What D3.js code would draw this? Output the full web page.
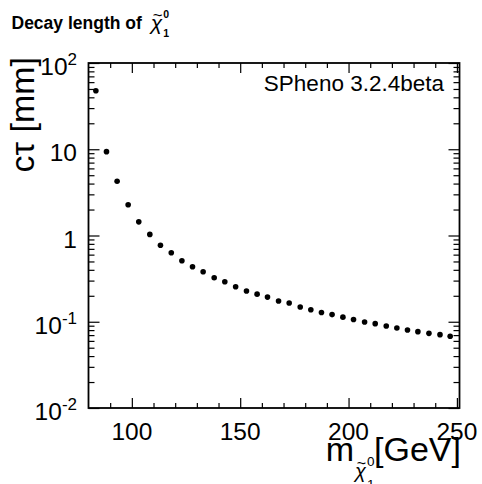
<!DOCTYPE html>
<html lang="en">
<head>
<meta charset="utf-8">
<title>Decay length of the lightest neutralino</title>
<script src="https://cdn.jsdelivr.net/npm/d3@7"></script>
<style>
	body { margin: 0; background: white; }
	text { font-family: "Liberation Sans", Arial, Helvetica, sans-serif; fill: black; }
</style>
</head>
<body>
<script>
// neutralino mass [GeV] and decay length c*tau [mm]
var mass = [83.4, 88.3, 93.2, 98.3, 103.2, 108.3, 113.2, 118.2, 123.1, 128.0,
            132.9, 138.0, 142.9, 147.9, 152.9, 157.8, 162.6, 167.7, 172.6, 177.7,
            182.6, 187.5, 192.4, 197.4, 202.3, 207.4, 212.3, 217.4, 222.3, 227.2,
            232.0, 237.1, 242.2, 246.9];
var ctau = [47.7, 9.38, 4.25, 2.27, 1.44, 1.03, 0.772, 0.630, 0.510, 0.434,
            0.380, 0.324, 0.291, 0.255, 0.227, 0.209, 0.193, 0.174, 0.165, 0.148,
            0.138, 0.128, 0.121, 0.113, 0.106, 0.0993, 0.0951, 0.0892, 0.0845, 0.0801,
            0.0768, 0.0734, 0.0709, 0.0678];
var xDomain = [80, 251.2];
var yDomain = [0.01, 100];
var xTicks = [100, 150, 200, 250];
var yTicks = [0.01, 0.1, 1, 10, 100];
var yTickLabels = ["10^-2", "10^-1", "1", "10", "10^2"];
var annotation = "SPheno 3.2.4beta";

var width = 482, height = 484;
var frameL = 88.5, frameR = 459.5, frameT = 63, frameB = 408;

var svg = d3.select("body")
	.append("svg")
	.attr("width", width)
	.attr("height", height);

var x = d3.scaleLinear().domain(xDomain).range([frameL, frameR]);
var y = d3.scaleLog().domain(yDomain).range([frameB, frameT]);

// minor ticks
var xMinor = d3.range(90, 251, 10).filter(function(v) { return xTicks.indexOf(v) < 0; });
var yMinor = [];
[0.01, 0.1, 1, 10].forEach(function(d) {
	for (var k = 2; k <= 9; k++) yMinor.push(d * k);
});

function noDomain(g) { g.select(".domain").remove(); }

// bottom / top axes (ticks pointing inside)
svg.append("g")
	.attr("transform", "translate(0," + frameB + ")")
	.call(d3.axisBottom(x).tickValues(xTicks).tickSize(-10).tickFormat(""))
	.call(noDomain);
svg.append("g")
	.attr("transform", "translate(0," + frameB + ")")
	.call(d3.axisBottom(x).tickValues(xMinor).tickSize(-5).tickFormat(""))
	.call(noDomain);
svg.append("g")
	.attr("transform", "translate(0," + frameT + ")")
	.call(d3.axisTop(x).tickValues(xTicks).tickSize(-10).tickFormat(""))
	.call(noDomain);
svg.append("g")
	.attr("transform", "translate(0," + frameT + ")")
	.call(d3.axisTop(x).tickValues(xMinor).tickSize(-5).tickFormat(""))
	.call(noDomain);

// left / right axes
svg.append("g")
	.attr("transform", "translate(" + frameL + ",0)")
	.call(d3.axisLeft(y).tickValues(yTicks).tickSize(-11).tickFormat(""))
	.call(noDomain);
svg.append("g")
	.attr("transform", "translate(" + frameL + ",0)")
	.call(d3.axisLeft(y).tickValues(yMinor).tickSize(-6).tickFormat(""))
	.call(noDomain);
svg.append("g")
	.attr("transform", "translate(" + frameR + ",0)")
	.call(d3.axisRight(y).tickValues(yTicks).tickSize(-11).tickFormat(""))
	.call(noDomain);
svg.append("g")
	.attr("transform", "translate(" + frameR + ",0)")
	.call(d3.axisRight(y).tickValues(yMinor).tickSize(-6).tickFormat(""))
	.call(noDomain);

svg.selectAll(".tick line").attr("stroke", "black").attr("stroke-width", 1.2);

// frame
svg.append("rect")
	.attr("x", frameL)
	.attr("y", frameT)
	.attr("width", frameR - frameL)
	.attr("height", frameB - frameT)
	.attr("fill", "none")
	.attr("stroke", "black")
	.attr("stroke-width", 1.8);

// tick labels
svg.selectAll(".xlab")
	.data(xTicks)
	.enter()
	.append("text")
	.attr("x", function(d) { return x(d); })
	.attr("y", 440)
	.attr("text-anchor", "middle")
	.attr("font-size", 24.5)
	.text(function(d) { return d; });

var ylab = svg.selectAll(".ylab")
	.data(yTicks)
	.enter()
	.append("text")
	.attr("x", 77)
	.attr("y", function(d) { return y(d) + 12; })
	.attr("text-anchor", "end")
	.attr("font-size", 24.5);
ylab.append("tspan")
	.text(function(d, i) { return yTickLabels[i].split("^")[0]; });
ylab.append("tspan")
	.attr("dy", -10)
	.attr("font-size", 17)
	.text(function(d, i) { return yTickLabels[i].split("^")[1] || ""; });

// points
svg.selectAll("circle")
	.data(mass)
	.enter()
	.append("circle")
	.attr("cx", function(d) { return x(d); })
	.attr("cy", function(d, i) { return y(ctau[i]); })
	.attr("r", 2.8)
	.attr("fill", "black");

// annotation
svg.append("text")
	.attr("x", 444)
	.attr("y", 91)
	.attr("text-anchor", "end")
	.attr("font-size", 22.5)
	.text(annotation);

// chi with tilde, sub 1 and sup 0; returns the x after it
function chi(g, x0, base, fs, ifs, supDy, subDy, bold) {
	var c = g.append("text")
		.attr("x", x0)
		.attr("y", base)
		.attr("font-size", fs)
		.attr("font-style", "italic")
		.text("\u03c7");
	var w = c.node().getComputedTextLength();
	g.append("text")
		.attr("x", x0 + w / 2 + 1)
		.attr("y", base - fs * 0.45)
		.attr("text-anchor", "middle")
		.attr("font-size", fs * 0.8)
		.text("~");
	g.append("text")
		.attr("x", x0 + w + 1)
		.attr("y", base + supDy)
		.attr("font-size", ifs)
		.attr("font-weight", bold ? "bold" : null)
		.text("0");
	g.append("text")
		.attr("x", x0 + w + 1)
		.attr("y", base + subDy)
		.attr("font-size", ifs)
		.attr("font-weight", bold ? "bold" : null)
		.text("1");
	return x0 + w + 1 + ifs * 0.6;
}

// title
var tg = svg.append("g");
var t = tg.append("text")
	.attr("x", 11.5)
	.attr("y", 28.5)
	.attr("font-size", 17.5)
	.attr("font-weight", "bold")
	.text("Decay length of");
chi(tg, 11.5 + t.node().getComputedTextLength() + 9, 30, 21, 10.5, -11.7, 6.7, true);

// x axis title
var xg = svg.append("g");
var m = xg.append("text")
	.attr("x", 0)
	.attr("y", 0)
	.attr("font-size", 34)
	.text("m");
var xe = chi(xg, m.node().getComputedTextLength() + 1, 17, 20, 13.5, -12.5, 11, false);
xg.append("text")
	.attr("x", xe - 1)
	.attr("y", 0)
	.attr("font-size", 34)
	.text("[GeV]");
var bb = xg.node().getBBox();
xg.attr("transform", "translate(" + (461 - bb.x - bb.width) + ",461)");

// y axis title
svg.append("text")
	.attr("transform", "translate(34,57) rotate(-90)")
	.attr("text-anchor", "end")
	.attr("font-size", 34)
	.text("c\u03c4 [mm]");
</script>
</body>
</html>
